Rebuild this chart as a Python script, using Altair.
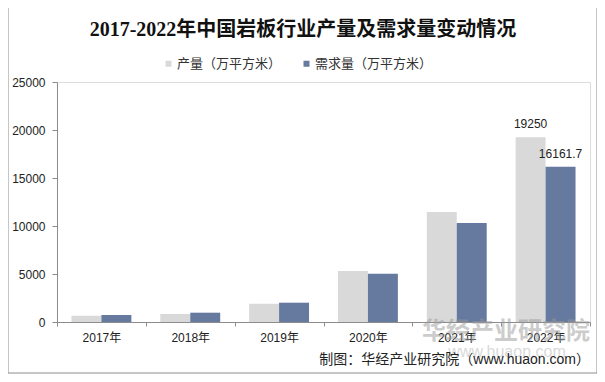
import altair as alt
import pandas as pd

years = ["2017年", "2018年", "2019年", "2020年", "2021年", "2022年"]
production = [650, 840, 1900, 5310, 11450, 19250]
demand = [730, 970, 2010, 5030, 10310, 16161.7]
series = ["产量（万平方米）", "需求量（万平方米）"]
colors = ["#d9d9d9", "#66799f"]
title_text = "2017-2022年中国岩板行业产量及需求量变动情况"
source_text = "制图：华经产业研究院（www.huaon.com）"
watermark_text = "华经产业研究院"
watermark_url = "www.huaon.com"

rows = []
for y, p, d in zip(years, production, demand):
    rows.append({"year": y, "series": series[0], "value": p})
    rows.append({"year": y, "series": series[1], "value": d})
df = pd.DataFrame(rows)
df["label"] = df["value"].map(lambda v: f"{v:g}")

W, H = 533, 240
SANS = "Liberation Sans, Arial, Noto Sans CJK SC"

x_enc = alt.X("year:N", sort=years, title=None,
              scale=alt.Scale(paddingInner=0, paddingOuter=0),
              axis=alt.Axis(tickBand="extent", labelAngle=0, tickSize=4,
                            labelPadding=6, labelFontSize=12, labelFont=SANS,
                            labelColor="#222", domainColor="#8c8c8c",
                            tickColor="#8c8c8c", grid=False))
xoff = alt.XOffset("series:N", sort=series,
                   scale=alt.Scale(paddingInner=0, paddingOuter=0.483))

bars = alt.Chart(df).mark_bar().encode(
    x=x_enc,
    xOffset=xoff,
    y=alt.Y("value:Q", title=None,
            scale=alt.Scale(domain=[0, 25000], nice=False),
            axis=alt.Axis(values=[0, 5000, 10000, 15000, 20000, 25000],
                          format="d",
                          tickSize=5, labelPadding=7, labelFontSize=12,
                          labelFont=SANS, labelColor="#222",
                          domainColor="#8c8c8c", tickColor="#8c8c8c",
                          grid=False)),
    color=alt.Color("series:N", sort=series,
                    scale=alt.Scale(domain=series, range=colors),
                    legend=alt.Legend(title=None, orient="none",
                                      direction="horizontal",
                                      legendX=105, legendY=-25,
                                      symbolType="square", symbolSize=36,
                                      symbolStrokeWidth=0,
                                      labelFontSize=13, labelFont=SANS,
                                      labelColor="#333", labelOffset=2,
                                      columnPadding=18)),
)

labels = alt.Chart(df).transform_filter(
    alt.datum.year == years[-1]
).mark_text(baseline="middle", dy=-13, fontSize=12, font=SANS,
            color="#222").encode(
    x=alt.X("year:N", sort=years),
    xOffset=xoff,
    y="value:Q",
    text="label:N",
)

one = pd.DataFrame({"k": [0]})

title = alt.Chart(one).mark_text(
    text=title_text, font="Liberation Serif, Noto Sans CJK SC",
    fontSize=20, fontWeight="bold", color="#111", align="center",
    baseline="middle").encode(x=alt.value(246), y=alt.value(-52))

source = alt.Chart(one).mark_text(
    text=source_text, font=SANS, fontSize=14, color="#222",
    align="right", baseline="middle").encode(
    x=alt.value(533), y=alt.value(278))

wm = alt.Chart(one).mark_text(
    text=watermark_text, font="Noto Sans CJK SC", fontSize=24,
    fontWeight="bold", color="#9a9a9a", opacity=0.5, align="right",
    baseline="middle").encode(x=alt.value(533), y=alt.value(250))

wm2 = alt.Chart(one).mark_text(
    text=watermark_url, font=SANS, fontSize=16, color="#b5b5b5",
    opacity=0.5, align="center", baseline="middle").encode(
    x=alt.value(450), y=alt.value(270))

border = alt.Chart(one).mark_rect(
    fill=None, stroke="#8c8c8c", strokeWidth=1).encode(
    x=alt.value(-49), x2=alt.value(540),
    y=alt.value(-75), y2=alt.value(291))

chart = alt.layer(border, bars, labels, wm2, wm, source, title).properties(
    width=W, height=H,
    autosize=alt.AutoSizeParams(type="none"),
    padding={"left": 49, "top": 74, "right": 7, "bottom": 52},
).configure_view(stroke=None).configure(background="white")

chart.save("out.html", embed_options={"renderer": "svg", "actions": False})
